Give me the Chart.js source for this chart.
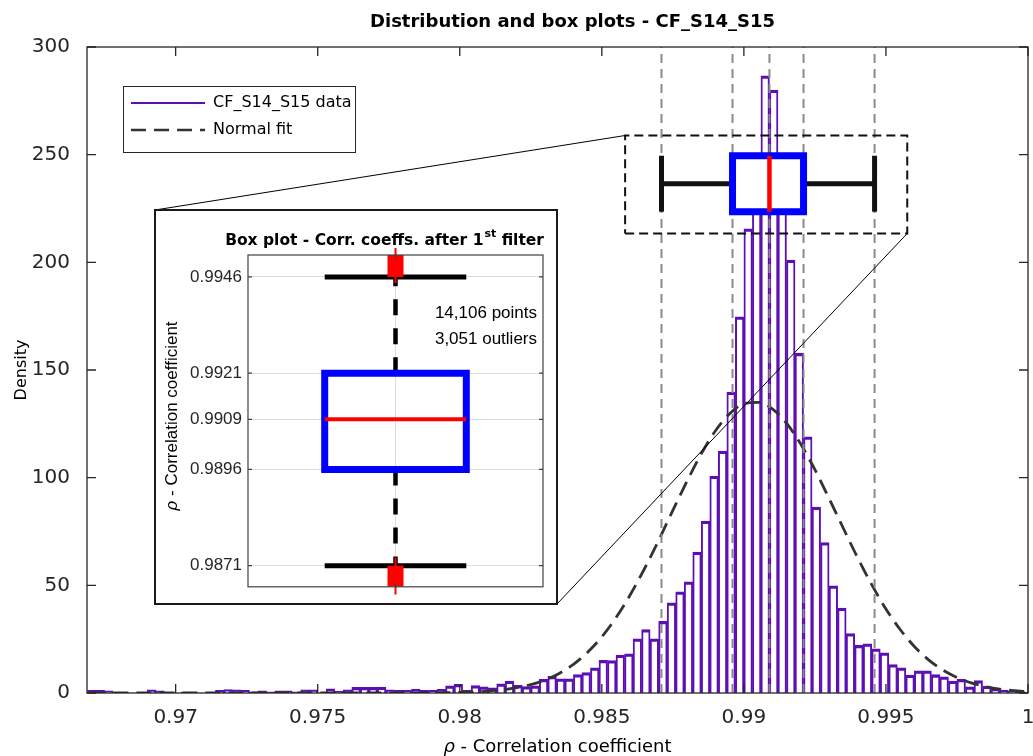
<!DOCTYPE html>
<html>
<head>
<meta charset="utf-8">
<script src="https://cdn.jsdelivr.net/npm/chart.js@4.4.0/dist/chart.umd.min.js"></script>
<style>
  html, body { margin: 0; padding: 0; background: #fff; }
  #wrap { position: relative; width: 1033px; height: 756px; overflow: hidden; }
  #main { position: absolute; left: 0; top: 0; }
  #inset { position: absolute; left: 154px; top: 209px; width: 404px; height: 396px;
           box-sizing: border-box; border: 2px solid #1a1a1a; background: #fff; }
  #box { display: block; }
</style>
</head>
<body>
<div id="wrap">
  <canvas id="main" width="1033" height="756"></canvas>
  <div id="inset"><canvas id="box" width="400" height="392"></canvas></div>
</div>
<script>
// histogram bins (density) left to right
const binStart = 0.9669;
const binWidth = 0.0003;
const density = [
  1.2, 1.2, 1.0, 0.2, 0, 0, 0, 1.5, 1.0, 0,
  0, 0.4, 0, 0, 0, 1.2, 1.6, 1.5, 1.2, 0.5,
  1.0, 0.5, 1.0, 1.0, 0.5, 1.5, 1.5, 0, 1.9, 0.8,
  1.5, 2.6, 2.6, 2.6, 2.8, 1.5, 1.2, 1.2, 1.8, 1.2,
  1.2, 1.7, 3.3, 4.0, 1.2, 3.5, 2.9, 2.4, 4.3, 5.5,
  3.6, 3.0, 3.3, 6.3, 7.7, 6.6, 6.6, 8.6, 9.5, 11.7,
  15.2, 15.1, 17.6, 18.2, 25.2, 29.5, 25.2, 33.3, 41.9, 47.0,
  51.6, 65.4, 79.8, 100.7, 112.3, 139.7, 174.7, 215.6, 250, 286.6,
  280, 245, 201, 157.8, 119, 86.3, 69.9, 49.8, 39.4, 27.6,
  22.2, 22.8, 20.5, 18.7, 13.2, 11.7, 8.3, 10.3, 10.3, 8.5,
  7.5, 5.5, 6.3, 2.9, 5.8, 3.2, 2.0, 1.3, 1.0, 0.7
];

// normal fit curve, read at these x positions
const fitX = [0.967, 0.972, 0.976, 0.978, 0.9785, 0.979, 0.9795, 0.98, 0.9805, 0.981,
  0.9815, 0.982, 0.9825, 0.983, 0.9835, 0.984, 0.9845, 0.985, 0.9855, 0.986,
  0.9865, 0.987, 0.9875, 0.988, 0.9885, 0.989, 0.9895, 0.99, 0.9905, 0.991,
  0.9915, 0.992, 0.9925, 0.993, 0.9935, 0.994, 0.9945, 0.995, 0.9955, 0.996,
  0.9965, 0.997, 0.9975, 0.998, 0.9985, 0.999, 0.9995, 1.0];
const fitY = [0, 0, 0, 0.02, 0.04, 0.08, 0.16, 0.29, 0.51, 0.89,
  1.5, 2.46, 3.92, 6.07, 9.1, 13.3, 18.9, 26.1, 35.0, 45.6,
  57.7, 70.9, 84.8, 98.4, 111.1, 121.8, 129.7, 134.3, 135.0, 132.0,
  125.3, 115.6, 103.7, 90.3, 76.5, 62.9, 50.3, 39.0, 29.5, 21.6,
  15.4, 10.7, 7.2, 4.7, 3.0, 1.8, 1.1, 0.64];

// box plot statistics: lower whisker, Q1, median, Q3, upper whisker
const boxStats = [0.9871, 0.9896, 0.9909, 0.9921, 0.9946];
const boxStatLabels = ['0.9871', '0.9896', '0.9909', '0.9921', '0.9946'];
const countLines = ['14,106 points', '3,051 outliers'];

const xTicks = [0.97, 0.975, 0.98, 0.985, 0.99, 0.995, 1];
const xTickLabels = ['0.97', '0.975', '0.98', '0.985', '0.99', '0.995', '1'];
const yTicks = [0, 50, 100, 150, 200, 250, 300];
const yTickLabels = ['0', '50', '100', '150', '200', '250', '300'];
const seriesNames = ['CF_S14_S15 data', 'Normal fit'];

// axis limits
const xRange = [0.96688, 1];
const yRange = [0, 300];
const insetX = [0.5, 1.5];
const insetY = [0.98655, 0.99517];

// where the small horizontal box plot sits (data units) and its dashed frame
const boxRow = { center: 236.5, half: 13 };
const frame = { x0: 0.98582, x1: 0.99575, y0: 213.4, y1: 258.9 };
const boxHalfWidth = 0.24;          // inset box half width (x units)
const outlierSpan = [0.99535, 0.99444, 0.98731, 0.98635];

const DEJA = "'DejaVu Sans', 'Liberation Sans', sans-serif";
const LIB = "'Liberation Sans', Arial, Helvetica, sans-serif";
const AXIS = '#262626';
const PURPLE = '#5c10b4';

Chart.defaults.font.family = DEJA;
Chart.defaults.color = AXIS;
Chart.defaults.animation = false;

function seg(points, color, width, dash, order, extra) {
  return Object.assign({
    type: 'line', data: points, borderColor: color, borderWidth: width,
    borderDash: dash || [], pointRadius: 0, pointHoverRadius: 0, fill: false,
    tension: 0, order: order, borderCapStyle: 'butt', borderJoinStyle: 'miter'
  }, extra || {});
}

const [lw, q1, med, q3, uw] = boxStats;
const yb = boxRow.center - boxRow.half, yt = boxRow.center + boxRow.half;

const mainSets = [
  {
    type: 'bar',
    data: density.map((d, i) => ({ x: binStart + (i + 0.5) * binWidth, y: d })),
    backgroundColor: 'rgba(0,0,0,0)',
    borderColor: PURPLE,
    borderWidth: { top: 2.6, left: 1.3, right: 1.3, bottom: 0 },
    borderSkipped: 'start',
    barPercentage: 1, categoryPercentage: 1,
    order: 20
  },
  seg(fitX.map((x, i) => ({ x: x, y: fitY[i] })), '#333333', 2.8, [15, 8], 15,
      { cubicInterpolationMode: 'monotone' }),
  ...boxStats.map(v => seg([{ x: v, y: yRange[0] }, { x: v, y: yRange[1] }], '#8a8a8a', 2, [9, 6], 12)),
  seg([{ x: frame.x0, y: frame.y0 }, { x: frame.x1, y: frame.y0 }, { x: frame.x1, y: frame.y1 },
       { x: frame.x0, y: frame.y1 }, { x: frame.x0, y: frame.y0 }], '#111111', 2, [9, 5], 6),
  seg([{ x: lw, y: boxRow.center }, { x: q1, y: boxRow.center }], '#111111', 5, [], 4),
  seg([{ x: q3, y: boxRow.center }, { x: uw, y: boxRow.center }], '#111111', 5, [], 4),
  seg([{ x: lw, y: yb }, { x: lw, y: yt }], '#111111', 5, [], 4),
  seg([{ x: uw, y: yb }, { x: uw, y: yt }], '#111111', 5, [], 4),
  seg([{ x: q1, y: yb }, { x: q3, y: yb }, { x: q3, y: yt }, { x: q1, y: yt }, { x: q1, y: yb }, { x: q3, y: yb }],
      '#0000ff', 7, [], 3, { fill: 'shape', backgroundColor: '#ffffff' }),
  seg([{ x: med, y: yb }, { x: med, y: yt }], '#ff0000', 4.5, [], 2)
];

const mainDecor = {
  id: 'mainDecor',
  afterDraw(chart) {
    const ctx = chart.ctx, a = chart.chartArea;
    const xs = chart.scales.x, ys = chart.scales.y;
    ctx.save();
    ctx.setLineDash([]);
    ctx.strokeStyle = AXIS;
    ctx.lineWidth = 1.3;
    ctx.beginPath();
    xTicks.forEach(v => {
      const p = xs.getPixelForValue(v);
      ctx.moveTo(p, a.bottom); ctx.lineTo(p, a.bottom - 9);
      ctx.moveTo(p, a.top); ctx.lineTo(p, a.top + 9);
    });
    yTicks.forEach(v => {
      const p = ys.getPixelForValue(v);
      ctx.moveTo(a.left, p); ctx.lineTo(a.left + 9, p);
      ctx.moveTo(a.right, p); ctx.lineTo(a.right - 9, p);
    });
    ctx.stroke();
    ctx.strokeRect(a.left, a.top, a.right - a.left, a.bottom - a.top);

    // title
    ctx.fillStyle = '#000';
    ctx.font = 'bold 18px ' + DEJA;
    ctx.textAlign = 'center';
    ctx.textBaseline = 'middle';
    ctx.fillText('Distribution and box plots - CF_S14_S15', (a.left + a.right) / 2 + 15, 22);

    // x label with italic rho
    ctx.textAlign = 'left';
    ctx.textBaseline = 'alphabetic';
    const rest = ' - Correlation coefficient';
    ctx.font = 'italic 18px ' + DEJA;
    const wr = ctx.measureText('\u03c1').width;
    ctx.font = '18px ' + DEJA;
    const wt = ctx.measureText(rest).width;
    const x0 = (a.left + a.right) / 2 - (wr + wt) / 2;
    ctx.font = 'italic 18px ' + DEJA;
    ctx.fillText('\u03c1', x0, 752);
    ctx.font = '18px ' + DEJA;
    ctx.fillText(rest, x0 + wr, 752);

    // legend
    const lx = a.left + 36, ly = a.top + 39, lW = 232, lH = 66;
    ctx.fillStyle = '#fff';
    ctx.fillRect(lx, ly, lW, lH);
    ctx.strokeStyle = AXIS;
    ctx.lineWidth = 1;
    ctx.strokeRect(lx + 0.5, ly + 0.5, lW, lH);
    ctx.lineWidth = 2;
    ctx.strokeStyle = PURPLE;
    ctx.beginPath(); ctx.moveTo(lx + 8, ly + 17); ctx.lineTo(lx + 82, ly + 17); ctx.stroke();
    ctx.strokeStyle = '#333333';
    ctx.lineWidth = 2.5;
    ctx.setLineDash([15, 8]);
    ctx.beginPath(); ctx.moveTo(lx + 8, ly + 44); ctx.lineTo(lx + 82, ly + 44); ctx.stroke();
    ctx.setLineDash([]);
    ctx.fillStyle = '#000';
    ctx.font = '16px ' + DEJA;
    ctx.textBaseline = 'middle';
    ctx.fillText(seriesNames[0], lx + 90, ly + 17);
    ctx.fillText(seriesNames[1], lx + 90, ly + 44);

    // connector lines to the inset
    const el = document.getElementById('inset');
    const iL = el.offsetLeft + 1, iT = el.offsetTop + 1;
    const iR = el.offsetLeft + el.offsetWidth - 1, iB = el.offsetTop + el.offsetHeight - 1;
    ctx.strokeStyle = '#000';
    ctx.lineWidth = 1;
    ctx.beginPath();
    ctx.moveTo(xs.getPixelForValue(frame.x0), ys.getPixelForValue(frame.y1));
    ctx.lineTo(iL, iT);
    ctx.moveTo(xs.getPixelForValue(frame.x1), ys.getPixelForValue(frame.y0));
    ctx.lineTo(iR, iB);
    ctx.stroke();
    ctx.restore();
  }
};

new Chart(document.getElementById('main'), {
  type: 'bar',
  data: { datasets: mainSets },
  options: {
    responsive: false,
    animation: false,
    layout: { padding: { top: 47, right: 5, left: 0, bottom: 0 } },
    plugins: { legend: { display: false }, tooltip: { enabled: false } },
    scales: {
      x: {
        type: 'linear', min: xRange[0], max: xRange[1], offset: false,
        grid: { display: false, drawTicks: false }, border: { display: false },
        afterBuildTicks: s => { s.ticks = xTicks.map(v => ({ value: v })); },
        ticks: { callback: (v, i) => xTickLabels[i], font: { size: 20 }, color: AXIS,
                 padding: 13, maxRotation: 0, autoSkip: false },
        afterFit: s => { s.height = 63; s.paddingLeft = 0; s.paddingRight = 0; }
      },
      y: {
        type: 'linear', min: yRange[0], max: yRange[1],
        grid: { display: false, drawTicks: false }, border: { display: false },
        afterBuildTicks: s => { s.ticks = yTicks.map(v => ({ value: v })); },
        ticks: { callback: (v, i) => yTickLabels[i], font: { size: 20 }, color: AXIS, padding: 17 },
        title: { display: true, text: 'Density', font: { size: 16 }, color: '#000',
                 padding: { top: 12, bottom: 0 } },
        afterFit: s => { s.width = 87; }
      }
    }
  },
  plugins: [mainDecor]
});

// ---- inset: vertical box plot ----
const bl = 1 - boxHalfWidth, br = 1 + boxHalfWidth;
const insetSets = [
  seg([{ x: 1, y: q3 }, { x: 1, y: uw }], '#000', 4.5, [16, 13], 6),
  seg([{ x: 1, y: q1 }, { x: 1, y: lw }], '#000', 4.5, [16, 13], 6),
  seg([{ x: bl, y: uw }, { x: br, y: uw }], '#000', 5, [], 5),
  seg([{ x: bl, y: lw }, { x: br, y: lw }], '#000', 5, [], 5),
  seg([{ x: bl, y: q1 }, { x: br, y: q1 }, { x: br, y: q3 }, { x: bl, y: q3 }, { x: bl, y: q1 }, { x: br, y: q1 }],
      '#0000ff', 7, [], 4),
  seg([{ x: bl, y: med }, { x: br, y: med }], '#ff0000', 4, [], 3),
  seg([{ x: 1, y: uw }, { x: 1, y: insetY[1] }], '#ff0000', 16, [], 2),
  seg([{ x: 1, y: insetY[0] }, { x: 1, y: lw }], '#ff0000', 16, [], 2),
  seg([{ x: 1, y: outlierSpan[0] }, { x: 1, y: outlierSpan[1] }], '#ff0000', 2, [], 1, { clip: false }),
  seg([{ x: 1, y: outlierSpan[2] }, { x: 1, y: outlierSpan[3] }], '#ff0000', 2, [], 1, { clip: false })
];

const insetDecor = {
  id: 'insetDecor',
  afterDraw(chart) {
    const ctx = chart.ctx, a = chart.chartArea;
    const ys = chart.scales.y, xs = chart.scales.x;
    ctx.save();
    ctx.setLineDash([]);
    ctx.strokeStyle = '#404040';
    ctx.lineWidth = 1.2;
    ctx.strokeRect(a.left, a.top, a.right - a.left, a.bottom - a.top);
    ctx.beginPath();
    boxStats.forEach(v => {
      const p = ys.getPixelForValue(v);
      ctx.moveTo(a.left, p); ctx.lineTo(a.left + 4, p);
      ctx.moveTo(a.right, p); ctx.lineTo(a.right - 4, p);
    });
    const cx = xs.getPixelForValue(1);
    ctx.moveTo(cx, a.top); ctx.lineTo(cx, a.top + 4);
    ctx.moveTo(cx, a.bottom); ctx.lineTo(cx, a.bottom - 4);
    ctx.stroke();

    // title with superscript
    ctx.fillStyle = '#000';
    ctx.textBaseline = 'alphabetic';
    ctx.textAlign = 'left';
    const t1 = 'Box plot - Corr. coeffs. after 1', sup = 'st', t2 = ' filter';
    ctx.font = 'bold 15.5px ' + DEJA;
    const w1 = ctx.measureText(t1).width, w3 = ctx.measureText(t2).width;
    ctx.font = 'bold 11px ' + DEJA;
    const w2 = ctx.measureText(sup).width;
    let tx = a.right - (w1 + w2 + w3);
    ctx.font = 'bold 15.5px ' + DEJA;
    ctx.fillText(t1, tx, 34);
    ctx.font = 'bold 11px ' + DEJA;
    ctx.fillText(sup, tx + w1 + 1, 26);
    ctx.font = 'bold 15.5px ' + DEJA;
    ctx.fillText(t2, tx + w1 + w2 + 1, 34);

    // counts
    ctx.font = '17px ' + LIB;
    ctx.textAlign = 'right';
    ctx.textBaseline = 'middle';
    ctx.fillText(countLines[0], a.right - 6, a.top + 58);
    ctx.fillText(countLines[1], a.right - 6, a.top + 84);

    // y label, rotated, italic rho
    const rest = ' - Correlation coefficient';
    ctx.font = 'italic 17px ' + LIB;
    const wr = ctx.measureText('\u03c1').width;
    ctx.font = '17px ' + LIB;
    const wt = ctx.measureText(rest).width;
    ctx.translate(16, (a.top + a.bottom) / 2 - 5);
    ctx.rotate(-Math.PI / 2);
    ctx.textAlign = 'left';
    ctx.font = 'italic 17px ' + LIB;
    ctx.fillText('\u03c1', -(wr + wt) / 2, 0);
    ctx.font = '17px ' + LIB;
    ctx.fillText(rest, -(wr + wt) / 2 + wr, 0);
    ctx.restore();
  }
};

new Chart(document.getElementById('box'), {
  type: 'scatter',
  data: { datasets: insetSets },
  options: {
    responsive: false,
    animation: false,
    layout: { padding: { top: 44, right: 13, bottom: 16, left: 0 } },
    plugins: { legend: { display: false }, tooltip: { enabled: false } },
    scales: {
      x: {
        type: 'linear', min: insetX[0], max: insetX[1],
        ticks: { display: false },
        grid: { color: '#dcdcdc', drawTicks: false }, border: { display: false },
        afterBuildTicks: s => { s.ticks = [{ value: 1 }]; },
        afterFit: s => { s.height = 0; }
      },
      y: {
        type: 'linear', min: insetY[0], max: insetY[1],
        grid: { color: '#dcdcdc', drawTicks: false }, border: { display: false },
        afterBuildTicks: s => { s.ticks = boxStats.map(v => ({ value: v })); },
        ticks: { callback: (v, i) => boxStatLabels[i], font: { family: LIB, size: 17 }, color: AXIS, padding: 6 },
        afterFit: s => { s.width = 92; }
      }
    }
  },
  plugins: [insetDecor]
});
</script>
</body>
</html>
